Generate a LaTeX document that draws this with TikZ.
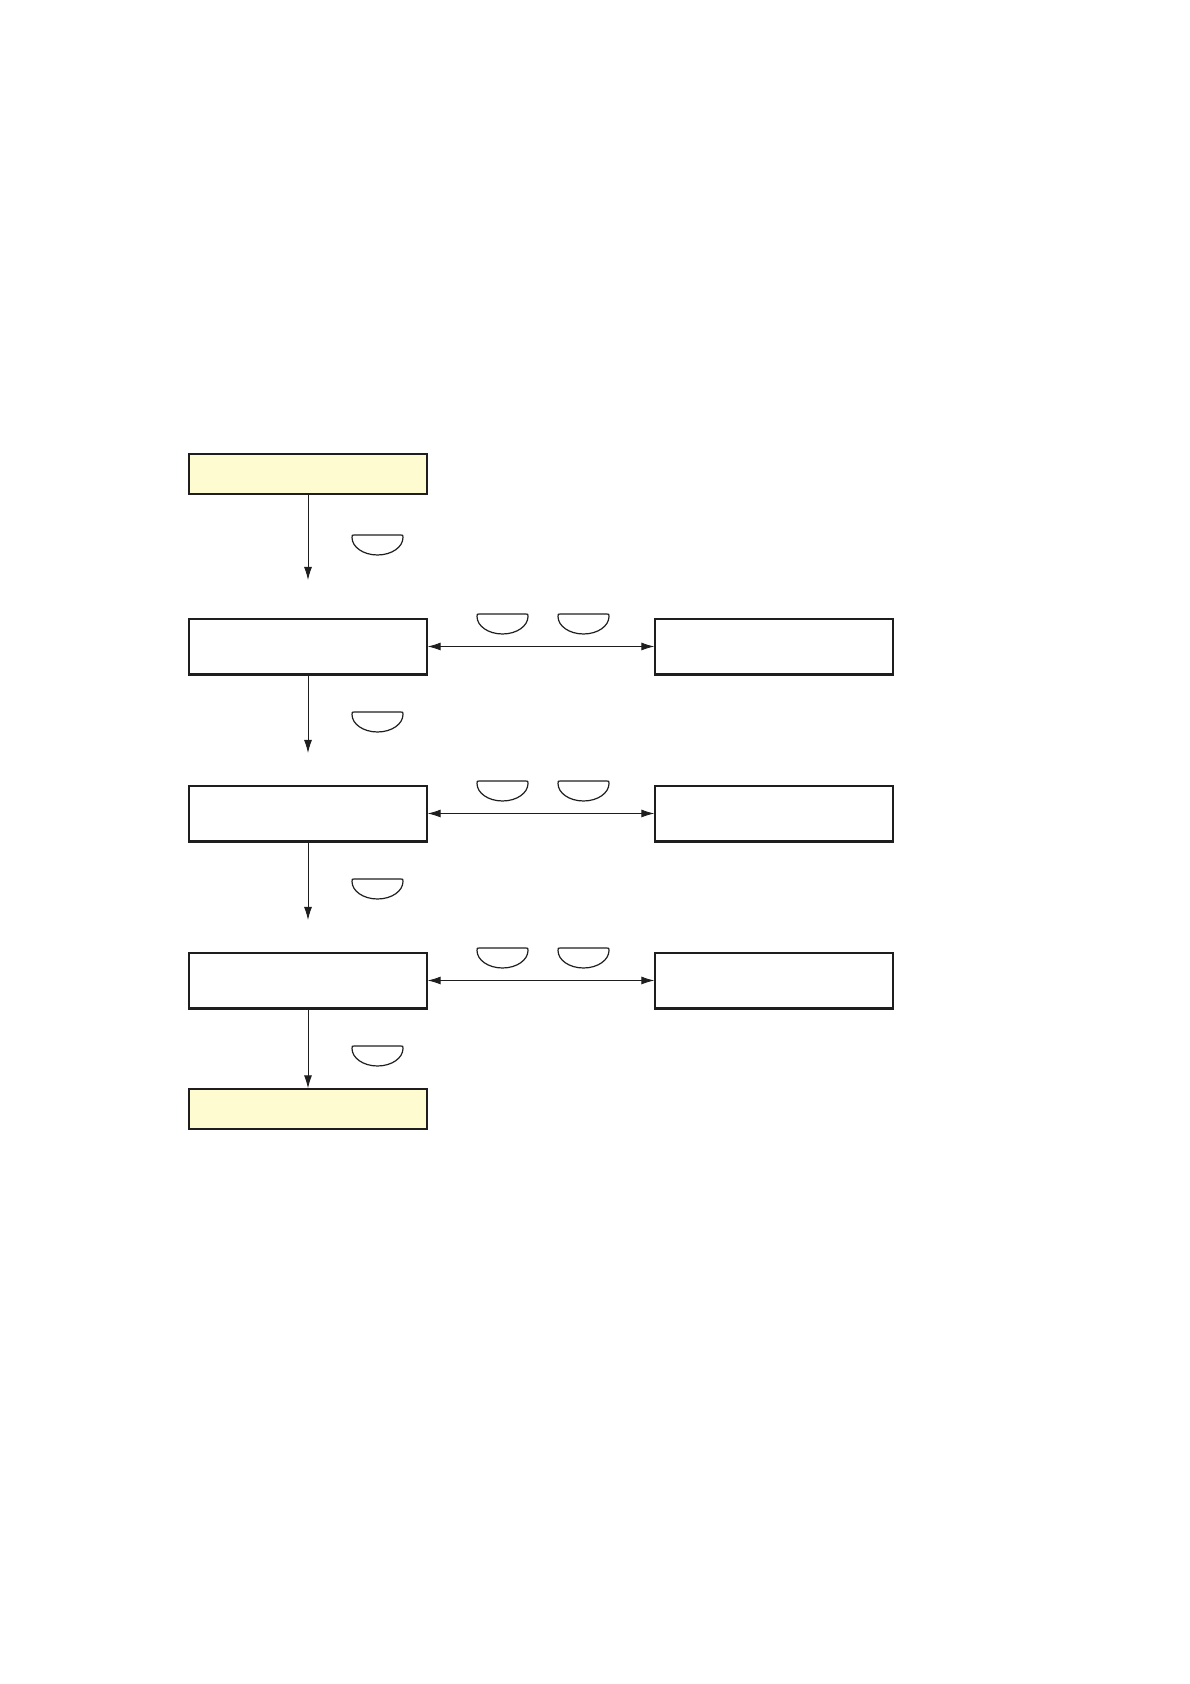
\documentclass[tikz,border=0pt]{standalone}
\usetikzlibrary{arrows.meta}
\definecolor{paleyellow}{RGB}{255,251,208}
\definecolor{ink}{RGB}{30,30,30}
\tikzset{
  box/.style={draw=ink, line width=1.3pt, minimum width=238pt, minimum height=55pt, inner sep=0pt, anchor=center},
  ybox/.style={box, fill=paleyellow, minimum height=40pt},
  conn/.style={draw=ink, line width=0.9pt, -{Latex[length=13pt,width=8pt]}},
  biconn/.style={draw=ink, line width=0.9pt, {Latex[length=13pt,width=8pt]}-{Latex[length=13pt,width=8pt]}},
  keycap/.pic={\draw[ink, line width=1.2pt, line join=round]
      (0,-2.5) .. controls (0,0) .. (2.5,0) -- (48.5,0) .. controls (51,0) .. (51,-2.5)
      arc[start angle=0, end angle=-180, x radius=25.5, y radius=17.5] -- cycle;},
  botline/.style={draw=ink, line width=2.6pt}
}
\begin{document}
\begin{tikzpicture}[x=1pt, y=1pt]
\useasboundingbox (0,0) rectangle (1190,1684);
% left column
\node[ybox] (start) at (308,1210) {};
\node[box] (l1) at (308,1037.5) {};
\node[box] (l2) at (308,870.5) {};
\node[box] (l3) at (308,703.5) {};
\node[ybox] (stop) at (308,575) {};
% right column
\node[box] (r1) at (774,1037.5) {};
\node[box] (r2) at (774,870.5) {};
\node[box] (r3) at (774,703.5) {};
% thicker bottom edges
\foreach \n in {l1,l2,l3,r1,r2,r3}{\draw[botline] (\n.south west) -- (\n.south east);}
% free ends of the downward arrows
\coordinate (e1) at (308,1104);
\coordinate (e2) at (308,931);
\coordinate (e3) at (308,764);
\draw[conn] (start.south) -- (e1);
\draw[conn] (l1.south) -- (e2);
\draw[conn] (l2.south) -- (e3);
\draw[conn] (l3.south) -- (stop.north);
% horizontal double arrows
\draw[biconn] (l1.east) -- (r1.west);
\draw[biconn] (l2.east) -- (r2.west);
\draw[biconn] (l3.east) -- (r3.west);
% key symbols beside downward arrows
\pic at (352,1149) {keycap};
\pic at (352,972) {keycap};
\pic at (352,805) {keycap};
\pic at (352,638) {keycap};
% key symbols above horizontal arrows
\foreach \yy in {1070,903,736}{
  \pic at (477,\yy) {keycap};
  \pic at (558,\yy) {keycap};
}
\end{tikzpicture}
\end{document}
